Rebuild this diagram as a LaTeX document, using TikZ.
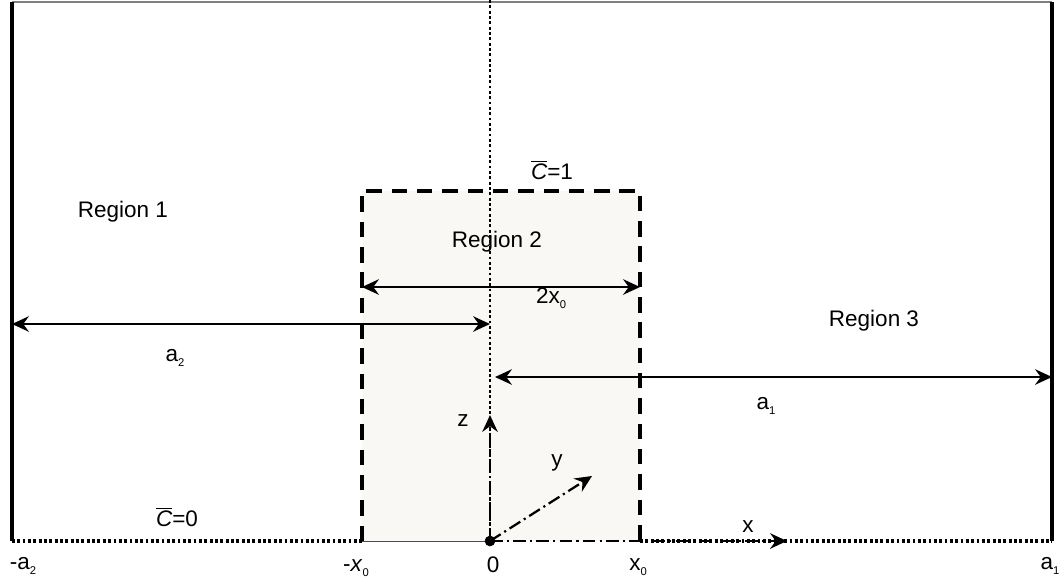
\documentclass[tikz,border=0pt]{standalone}
\usepackage{fontspec}
\setmainfont{Liberation Sans}
\usetikzlibrary{arrows.meta}
\definecolor{regfill}{RGB}{250,248,244}
\newcommand{\lowidx}[1]{\raisebox{-0.45ex}{\fontsize{8}{8}\selectfont #1}}
\newcommand{\cbar}{$\overline{\mbox{\itshape C}}$}
\tikzset{
	lbl/.style={font=\fontsize{16}{19}\selectfont, inner sep=0pt},
	wall/.style={line width=2.8pt},
	dimarrow/.style={line width=1.6pt, {Stealth[length=12pt,width=11pt,inset=4pt]}-{Stealth[length=12pt,width=11pt,inset=4pt]}},
	axisarrow/.style={line width=1.6pt, dash pattern=on 9pt off 3pt on 1.5pt off 3pt, -{Stealth[length=12pt,width=11pt,inset=4pt]}},
	dotline/.style={line width=2pt, dash pattern=on 2pt off 1.8pt},
	boxline/.style={line width=2.4pt, dash pattern=on 11pt off 7pt}
}
\begin{document}
\begin{tikzpicture}[line join=round,x=0.025cm,y=-0.025cm]
	\useasboundingbox (0,0) rectangle (1062,581);
	% corners and axis points
	\coordinate (TL) at (12,2);
	\coordinate (TR) at (1052,2);
	\coordinate (BL) at (12,541);
	\coordinate (BR) at (1052,541);
	\coordinate (O) at (490,541);
	\coordinate (Top) at (490,0);
	\coordinate (XL) at (362,541);
	\coordinate (XR) at (640,541);
	\coordinate (XLt) at (362,191);
	\coordinate (XRt) at (640,191);
	% region 2
	\fill[regfill] (XL) rectangle (XRt);
	% walls
	\draw[line width=0.8pt, gray] (TL) -- (TR);
	\draw[wall] (TL) -- (BL);
	\draw[wall] (TR) -- (BR);
	% bottom line
	\draw[dotline, line width=2.4pt] (BL) -- (XL);
	\draw[line width=0.7pt, gray!60!black] (XL) -- (O);
	\draw[dotline, line width=2.4pt] (XR) -- (BR);
	% centre line
	\draw[dotline] (Top) -- (O);
	\draw[boxline] (XL) -- (XLt) -- (XRt) -- (XR);
	% dimensions
	\coordinate (A2l) at (12,324);
	\coordinate (A2r) at (490,324);
	\coordinate (A1l) at (495,377);
	\coordinate (A1r) at (1052,377);
	\coordinate (W2l) at (362,287);
	\coordinate (W2r) at (640,287);
	\draw[dimarrow] (W2l) -- (W2r);
	\draw[dimarrow] (A2l) -- (A2r);
	\draw[dimarrow] (A1l) -- (A1r);
	% axes
	\coordinate (Zend) at (490,415);
	\coordinate (Yend) at (592,476);
	\coordinate (Xend) at (787,541);
	\draw[axisarrow] (O) -- (Zend);
	\draw[axisarrow] (O) -- (Yend);
	\draw[axisarrow] (O) -- (Xend);
	\filldraw[color=black] (O) circle(5);
	% labels
	\node[lbl] (reg1) at (123,212) {Region 1};
	\node[lbl] (reg2) at (497,242) {Region 2};
	\node[lbl] (reg3) at (874,321) {Region 3};
	\node[lbl] (c1) at (552,170) {\cbar=1};
	\node[lbl] (c0) at (177,517) {\cbar=0};
	\node[lbl] (w2) at (551,298) {2x\lowidx{0}};
	\node[lbl] (la2) at (175,358) {a\lowidx{2}};
	\node[lbl] (la1) at (766,406) {a\lowidx{1}};
	\node[lbl] (lz) at (463,421) {z};
	\node[lbl] (ly) at (557,463) {y};
	\node[lbl] (lx) at (748,527) {x};
	\node[lbl] (ma2) at (23,566) {-a\lowidx{2}};
	\node[lbl] (mx0) at (356,568) {-\textit{x}\lowidx{0}};
	\node[lbl] (zero) at (493,565) {0};
	\node[lbl] (px0) at (638,567) {x\lowidx{0}};
	\node[lbl] (pa1) at (1050,566) {a\lowidx{1}};
\end{tikzpicture}
\end{document}
